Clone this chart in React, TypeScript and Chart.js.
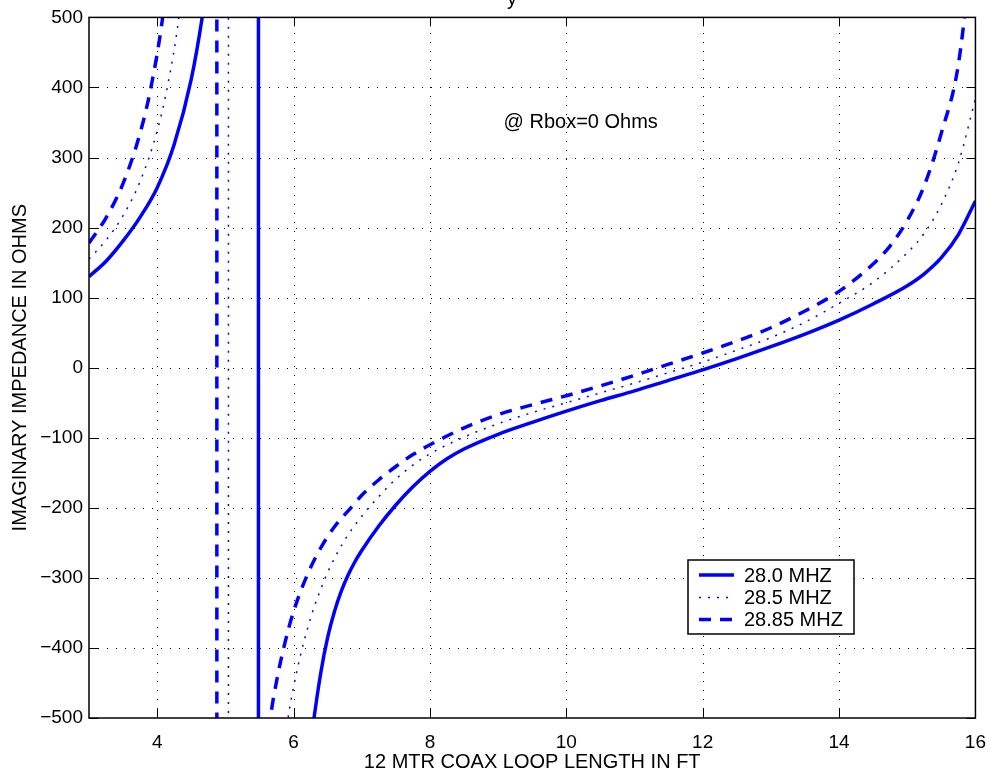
import React, { useEffect, useRef } from 'react';
import { Chart, registerables } from 'chart.js';

Chart.register(...registerables);

// ---- data ----
const SERIES_LABELS = ['28.0 MHZ', '28.5 MHZ', '28.85 MHZ'];

const X_280 = [3, 3.25, 3.5, 3.75, 4.0, 4.25, 4.5, 4.66, 4.75, 5.0, 5.25, 5.4, 5.48, 5.49, 5.55, 5.65, 5.8, 6.0, 6.2, 6.3, 6.4, 6.5, 6.6, 6.7, 6.8, 6.9, 7.0, 7.25, 7.5, 7.75, 8.0, 8.25, 8.5, 9.0, 9.5, 10.0, 10.5, 11.0, 11.5, 12.0, 12.5, 13.0, 13.5, 14.0, 14.5, 15.0, 15.25, 15.5, 15.75, 16.0];
const Y_280 = [130, 152, 181, 215, 257, 319, 412, 500, 564, 858, 1668, 5400, 100000, -100000, -7000, -2500, -1250, -790, -575, -500, -435, -385, -348, -319, -296, -277, -261, -226, -196, -170, -148, -130, -116, -95, -78, -62, -47, -33, -18, -3, 13, 30, 48, 68, 91, 117, 134, 157, 190, 238];

const X_285 = [3, 3.25, 3.5, 3.75, 4.0, 4.15, 4.32, 4.5, 4.75, 4.95, 5.04, 5.05, 5.1, 5.2, 5.4, 5.6, 5.8, 5.92, 6.0, 6.1, 6.2, 6.3, 6.4, 6.5, 6.75, 7.0, 7.25, 7.5, 7.75, 8.0, 8.5, 9.0, 9.5, 10.0, 10.5, 11.0, 11.5, 12.0, 12.5, 13.0, 13.5, 14.0, 14.5, 15.0, 15.25, 15.5, 15.75, 16.0];
const Y_285 = [155, 182, 217, 266, 338, 401, 502, 675, 1251, 3600, 100000, -100000, -12000, -4000, -1500, -900, -600, -500, -456, -411, -374, -342, -316, -292, -246, -212, -184, -159, -139, -123, -99, -80, -64, -50, -36, -22, -7, 8, 25, 43, 65, 92, 122, 164, 192, 233, 292, 384];

const X_2885 = [3, 3.25, 3.5, 3.75, 3.91, 4.08, 4.25, 4.5, 4.7, 4.8, 4.87, 4.88, 4.95, 5.1, 5.3, 5.5, 5.66, 5.75, 5.86, 6.0, 6.2, 6.4, 6.6, 6.84, 7.0, 7.25, 7.5, 7.75, 8.0, 8.5, 9.0, 9.5, 10.0, 10.5, 11.0, 11.5, 12.0, 12.5, 13.0, 13.5, 14.0, 14.5, 14.75, 15.0, 15.25, 15.5, 15.75, 16.0];
const Y_2885 = [178, 214, 263, 335, 401, 500, 654, 1147, 2650, 7000, 100000, -100000, -8000, -2000, -1000, -640, -500, -448, -398, -348, -296, -257, -227, -200, -182, -160, -141, -124, -110, -86, -67, -53, -40, -26, -11, 5, 21, 38, 57, 81, 109, 148, 174, 210, 260, 335, 433, 645];

const X_TICKS = [4, 6, 8, 10, 12, 14, 16];
const Y_TICKS = [-500, -400, -300, -200, -100, 0, 100, 200, 300, 400, 500];
const X_MIN = 3;
const X_MAX = 16;
const Y_MIN = -500;
const Y_MAX = 500;

const X_TITLE = '12 MTR COAX LOOP LENGTH IN FT';
const Y_TITLE = 'IMAGINARY IMPEDANCE IN OHMS';
const TOP_TITLE_FRAGMENT = 'y';
const NOTE_TEXT = '@ Rbox=0 Ohms';
const NOTE_X = 9.08;
const NOTE_Y = 350;

const FONT_FAMILY = "'Liberation Sans', Arial, Helvetica, sans-serif";
const TICK_FONT_SIZE = 19;
const TEXT_FONT_SIZE = 20;
const BLUE = '#0000ff';

const toPoints = (xs: number[], ys: number[]) => xs.map((x, i) => ({ x, y: ys[i] }));
const fmt = (v: number) => (v < 0 ? '\u2212' + Math.abs(v) : String(v));

const matlabPlugin = {
  id: 'matlabLook',
  beforeDatasetsDraw(chart: any) {
    const { ctx, chartArea: a, scales } = chart;
    const xs = scales.x;
    const ys = scales.y;
    ctx.save();
    ctx.strokeStyle = '#000';
    ctx.lineWidth = 1;
    ctx.setLineDash([1, 8]);
    for (const t of X_TICKS) {
      const px = Math.round(xs.getPixelForValue(t)) + 0.5;
      if (px <= a.left + 1 || px >= a.right - 1) continue;
      ctx.beginPath();
      ctx.moveTo(px, a.bottom);
      ctx.lineTo(px, a.top);
      ctx.stroke();
    }
    for (const t of Y_TICKS) {
      const py = Math.round(ys.getPixelForValue(t)) + 0.5;
      if (py <= a.top + 1 || py >= a.bottom - 1) continue;
      ctx.beginPath();
      ctx.moveTo(a.left, py);
      ctx.lineTo(a.right, py);
      ctx.stroke();
    }
    ctx.restore();
  },
  afterDatasetsDraw(chart: any) {
    const { ctx, chartArea: a, scales } = chart;
    const xs = scales.x;
    const ys = scales.y;
    ctx.save();
    ctx.setLineDash([]);
    ctx.strokeStyle = '#000';
    ctx.lineWidth = 1.5;
    ctx.strokeRect(a.left, a.top, a.right - a.left, a.bottom - a.top);
    // inward ticks on all four sides
    const TL = 9;
    ctx.lineWidth = 1;
    for (const t of X_TICKS) {
      const px = Math.round(xs.getPixelForValue(t)) + 0.5;
      ctx.beginPath();
      ctx.moveTo(px, a.bottom);
      ctx.lineTo(px, a.bottom - TL);
      ctx.moveTo(px, a.top);
      ctx.lineTo(px, a.top + TL);
      ctx.stroke();
    }
    for (const t of Y_TICKS) {
      const py = Math.round(ys.getPixelForValue(t)) + 0.5;
      ctx.beginPath();
      ctx.moveTo(a.left, py);
      ctx.lineTo(a.left + TL, py);
      ctx.moveTo(a.right, py);
      ctx.lineTo(a.right - TL, py);
      ctx.stroke();
    }

    ctx.fillStyle = '#000';
    ctx.font = `${TEXT_FONT_SIZE}px ${FONT_FAMILY}`;

    // annotation
    ctx.textAlign = 'left';
    ctx.textBaseline = 'middle';
    ctx.fillText(NOTE_TEXT, xs.getPixelForValue(NOTE_X), ys.getPixelForValue(NOTE_Y));

    // legend
    const lx = 688, ly = 560, lw = 166, lh = 74;
    ctx.fillStyle = '#fff';
    ctx.fillRect(lx, ly, lw, lh);
    ctx.strokeStyle = '#000';
    ctx.lineWidth = 1.5;
    ctx.strokeRect(lx, ly, lw, lh);
    const rows = [575, 597.5, 619.5];
    chart.data.datasets.forEach((ds: any, i: number) => {
      ctx.save();
      ctx.strokeStyle = ds.borderColor;
      ctx.lineWidth = ds.borderWidth;
      ctx.setLineDash(ds.borderDash || []);
      ctx.beginPath();
      ctx.moveTo(699, rows[i]);
      ctx.lineTo(734, rows[i]);
      ctx.stroke();
      ctx.restore();
      ctx.fillStyle = '#000';
      ctx.textAlign = 'left';
      ctx.textBaseline = 'middle';
      ctx.fillText(ds.label, 744, rows[i] + 1);
    });

    // axis titles
    ctx.fillStyle = '#000';
    ctx.textAlign = 'center';
    ctx.textBaseline = 'middle';
    ctx.fillText(X_TITLE, (a.left + a.right) / 2, 762);
    ctx.save();
    ctx.translate(20, (a.top + a.bottom) / 2);
    ctx.rotate(-Math.PI / 2);
    ctx.fillText(Y_TITLE, 0, 0);
    ctx.restore();

    // top title (cut off by the picture edge)
    ctx.textAlign = 'center';
    ctx.textBaseline = 'alphabetic';
    ctx.fillText(TOP_TITLE_FRAGMENT, 512, 5);
    ctx.restore();
  },
};

export default function App() {
  const ref = useRef<HTMLCanvasElement | null>(null);
  useEffect(() => {
    if (!ref.current) return;
    const chart = new Chart(ref.current, {
      type: 'line',
      data: {
        datasets: [
          {
            label: SERIES_LABELS[0],
            data: toPoints(X_280, Y_280),
            borderColor: BLUE,
            borderWidth: 3.5,
            borderDash: [],
            pointRadius: 0,
            fill: false,
            cubicInterpolationMode: 'monotone',
            clip: 0,
          },
          {
            label: SERIES_LABELS[1],
            data: toPoints(X_285, Y_285),
            borderColor: BLUE,
            borderWidth: 1.5,
            borderDash: [2, 7],
            pointRadius: 0,
            fill: false,
            cubicInterpolationMode: 'monotone',
            clip: 0,
          },
          {
            label: SERIES_LABELS[2],
            data: toPoints(X_2885, Y_2885),
            borderColor: BLUE,
            borderWidth: 3.5,
            borderDash: [12, 9],
            pointRadius: 0,
            fill: false,
            cubicInterpolationMode: 'monotone',
            clip: 0,
          },
        ],
      } as any,
      options: {
        animation: false,
        responsive: false,
        devicePixelRatio: 1,
        layout: { padding: { left: 0, top: 15, right: 16, bottom: 0 } },
        plugins: {
          legend: { display: false },
          tooltip: { enabled: false },
          title: { display: false },
        },
        scales: {
          x: {
            type: 'linear',
            min: X_MIN,
            max: X_MAX,
            afterBuildTicks: (s: any) => {
              s.ticks = X_TICKS.map((v) => ({ value: v }));
            },
            afterFit: (s: any) => {
              s.height = 54;
            },
            grid: { display: false, drawTicks: false },
            border: { display: false },
            ticks: {
              color: '#000',
              font: { family: FONT_FAMILY, size: TICK_FONT_SIZE },
              padding: 13,
              maxRotation: 0,
              autoSkip: false,
              callback: (v: any) => fmt(Number(v)),
            },
          },
          y: {
            type: 'linear',
            min: Y_MIN,
            max: Y_MAX,
            afterBuildTicks: (s: any) => {
              s.ticks = Y_TICKS.map((v) => ({ value: v }));
            },
            afterFit: (s: any) => {
              s.width = 89;
            },
            grid: { display: false, drawTicks: false },
            border: { display: false },
            ticks: {
              color: '#000',
              font: { family: FONT_FAMILY, size: TICK_FONT_SIZE },
              padding: 6,
              autoSkip: false,
              callback: (v: any) => fmt(Number(v)),
            },
          },
        },
      } as any,
      plugins: [matlabPlugin],
    });
    return () => chart.destroy();
  }, []);

  return (
    <div style={{ position: 'absolute', left: 0, top: 0, width: 999, height: 772, background: '#fff' }}>
      <canvas ref={ref} width={999} height={772} style={{ display: 'block' }} />
    </div>
  );
}
